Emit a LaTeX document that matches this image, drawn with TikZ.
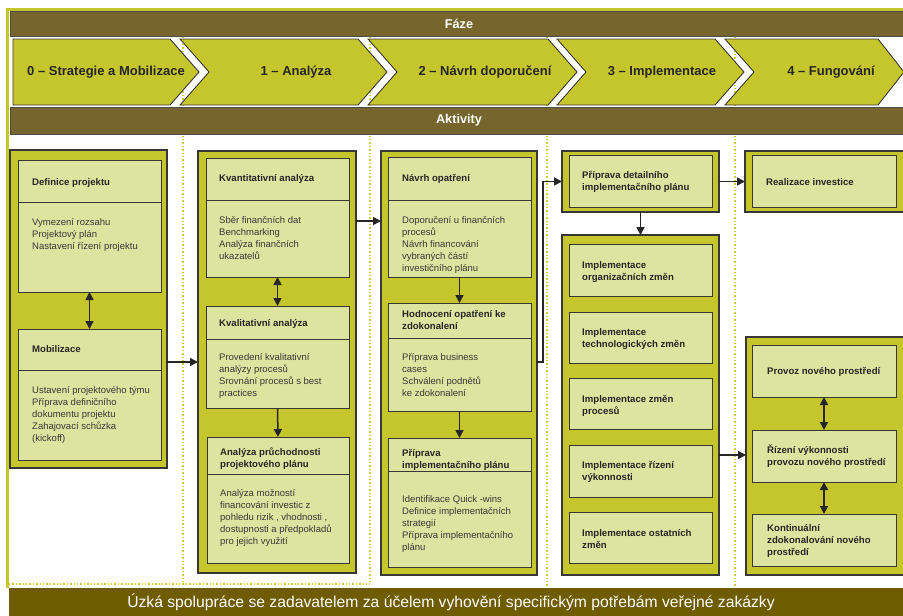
\documentclass[tikz,border=0pt]{standalone}
\usepackage{fontspec}
\setmainfont{Liberation Sans}
\usetikzlibrary{arrows.meta}
\definecolor{colOlive}{RGB}{197,197,44}
\definecolor{colLight}{RGB}{221,228,160}
\definecolor{colBar}{RGB}{118,102,46}
\definecolor{colBot}{RGB}{112,92,0}
\definecolor{colDot}{RGB}{204,204,50}
\definecolor{colLine}{RGB}{55,55,55}
\newcommand{\mkbox}[6]{\node[#1, anchor=north west, minimum width={(#4-#2)*1pt}, minimum height={(#5-#3)*1pt}] (#6) at (#2,#3) {};}
\begin{document}
\begin{tikzpicture}[x=1pt,y=-1pt,
  outerbox/.style={draw=colLine, fill=colOlive, line width=1.2pt, inner sep=0pt, outer sep=0pt},
  innerbox/.style={draw=colLine, fill=colLight, line width=0.9pt, inner sep=0pt, outer sep=0pt},
  divline/.style={draw=colLine, line width=0.9pt},
  chev/.style={draw=colLine, fill=colOlive, line width=0.9pt},
  barstyle/.style={draw=black!70, fill=colBar, line width=0.8pt},
  dotline/.style={draw=colDot, line width=1.3pt, dash pattern=on 1.3pt off 2.1pt},
  hdr/.style={text=white, font=\fontsize{12.7}{15}\selectfont\bfseries, inner sep=0pt},
  chevtext/.style={text=black!85, font=\fontsize{13}{15}\selectfont\bfseries, inner sep=0pt},
  title/.style={text=black!85, font=\fontsize{9.6}{12}\selectfont\bfseries, inner sep=0pt, anchor=base west, align=left},
  body/.style={text=black!78, font=\fontsize{9.5}{12}\selectfont, inner sep=0pt, anchor=base west, align=left},
  arr/.style={draw=black!85, line width=1.5pt, -{Triangle[length=8pt,width=8pt]}},
  darr/.style={draw=black!85, line width=1.5pt, {Triangle[length=8pt,width=8pt]}-{Triangle[length=8pt,width=8pt]}}
]
\useasboundingbox (0,0) rectangle (903,616);
\clip (0,0) rectangle (903,616);
\fill[white] (0,0) rectangle (903,616);

% dotted column separators
\draw[dotline] (183,37) -- (183,584);
\draw[dotline] (370,37) -- (370,584);
\draw[dotline] (547,37) -- (547,588);
\draw[dotline] (735,37) -- (735,588);
\draw[dotline] (9,584) -- (370,584);

% outer frame
\draw[colOlive, line width=2.2pt] (7.5,588) -- (7.5,9.5) -- (903,9.5);

% header bars
\draw[barstyle] (10,11) rectangle (906,36);
\node[hdr] (faze) at (459,23.5) {Fáze};

% chevrons
\draw[chev] (13,39) -- (170,39) -- (199,72) -- (170,105) -- (13,105) -- cycle;
\draw[chev] (180,39) -- (358,39) -- (387,72) -- (358,105) -- (180,105) -- (209,72) -- cycle;
\draw[chev] (368,39) -- (548,39) -- (577,72) -- (548,105) -- (368,105) -- (397,72) -- cycle;
\draw[chev] (557,39) -- (715,39) -- (744,72) -- (715,105) -- (557,105) -- (586,72) -- cycle;
\draw[chev] (725,39) -- (878,39) -- (904,72) -- (878,105) -- (725,105) -- (754,72) -- cycle;
\node[chevtext] (ph0) at (106,72) {0 – Strategie a Mobilizace};
\node[chevtext] (ph1) at (296,72) {1 – Analýza};
\node[chevtext] (ph2) at (485,72) {2 – Návrh doporučení};
\node[chevtext] (ph3) at (662,72) {3 – Implementace};
\node[chevtext] (ph4) at (831,72) {4 – Fungování};

\draw[barstyle] (10,107) rectangle (906,134);
\node[hdr] (akt) at (459,120.5) {Aktivity};

% ---------- column 0
\mkbox{outerbox}{10}{150}{167}{468}{c0}
\mkbox{innerbox}{18}{160}{161}{292}{d0}
\draw[divline] (18,202) -- (161,202);
\node[title] (d0t) at (32,185.5) {Definice projektu};
\node[body] (d0b) at (32,249.5) {Vymezení rozsahu\\Projektový plán\\Nastavení řízení projektu};
\mkbox{innerbox}{18}{329}{161}{460}{m0}
\draw[divline] (18,370) -- (161,370);
\node[title] (m0t) at (32,352.5) {Mobilizace};
\node[body] (m0b) at (32,441.5) {Ustavení projektového týmu\\Příprava definičního\\dokumentu projektu\\Zahajovací schůzka\\(kickoff)};
\draw[darr] (d0.south) -- (m0.north);

% ---------- column 1
\mkbox{outerbox}{198}{151}{356}{573}{c1}
\mkbox{innerbox}{206}{158}{349}{277}{k1}
\draw[divline] (206,200) -- (349,200);
\node[title] (k1t) at (219,181.5) {Kvantitativní analýza};
\node[body] (k1b) at (219,259.5) {Sběr finančních dat\\Benchmarking\\Analýza finančních\\ukazatelů};
\mkbox{innerbox}{206}{306}{349}{408}{q1}
\draw[divline] (206,339) -- (349,339);
\node[title] (q1t) at (219,326.5) {Kvalitativní analýza};
\node[body] (q1b) at (219,396.5) {Provedení kvalitativní\\analýzy procesů\\Srovnání procesů s best\\practices};
\mkbox{innerbox}{207}{437}{349}{563}{p1}
\draw[divline] (207,474) -- (349,474);
\node[title] (p1t) at (220,467.5) {Analýza průchodnosti\\projektového plánu};
\node[body] (p1b) at (220,544.5) {Analýza možností\\financování investic z\\pohledu rizik , vhodnosti ,\\dostupnosti a předpokladů\\pro jejich využití};
\draw[darr] (k1.south) -- (q1.north);
\draw[arr] (q1.south) -- (p1.north);

% ---------- column 2
\mkbox{outerbox}{381}{151}{537}{575}{c2}
\mkbox{innerbox}{388}{157}{531}{277}{n2}
\draw[divline] (388,200) -- (531,200);
\node[title] (n2t) at (402,181.5) {Návrh opatření};
\node[body] (n2b) at (402,271.5) {Doporučení u finančních\\procesů\\Návrh financování\\vybraných částí\\investičního plánu};
\mkbox{innerbox}{388}{303}{531}{411}{h2}
\draw[divline] (388,338) -- (531,338);
\node[title] (h2t) at (402,329.5) {Hodnocení opatření ke\\zdokonalení};
\node[body] (h2b) at (402,396.5) {Příprava business\\cases\\Schválení podnětů\\ke zdokonalení};
\mkbox{innerbox}{388}{438}{531}{567}{i2}
\draw[divline] (388,471) -- (531,471);
\node[title] (i2t) at (402,468.5) {Příprava\\implementačního plánu};
\node[body] (i2b) at (402,550.5) {Identifikace Quick -wins\\Definice implementačních\\strategií\\Příprava implementačního\\plánu};
\draw[arr] (n2.south) -- (h2.north);
\draw[arr] (h2.south) -- (i2.north);

% ---------- column 3
\mkbox{outerbox}{562}{151}{719}{212}{c3a}
\mkbox{innerbox}{569}{155}{712}{207}{r3}
\node[title] (r3t) at (582,190.5) {Příprava detailního\\implementačního plánu};
\mkbox{outerbox}{562}{235}{719}{575}{c3b}
\mkbox{innerbox}{569}{244}{712}{296}{e1}
\mkbox{innerbox}{569}{312}{712}{363}{e2}
\mkbox{innerbox}{569}{378}{712}{429}{e3}
\mkbox{innerbox}{569}{445}{712}{497}{e4}
\mkbox{innerbox}{569}{512}{712}{563}{e5}
\node[title] (e1t) at (582,280) {Implementace\\organizačních změn};
\node[title] (e2t) at (582,347) {Implementace\\technologických změn};
\node[title] (e3t) at (582,414) {Implementace změn\\procesů};
\node[title] (e4t) at (582,480) {Implementace řízení\\výkonnosti};
\node[title] (e5t) at (582,548) {Implementace ostatních\\změn};
\draw[arr] (c3a.south) -- (c3b.north);

% ---------- column 4
\mkbox{outerbox}{745}{151}{904}{212}{c4a}
\mkbox{innerbox}{752}{155}{896}{207}{v4}
\node[title] (v4t) at (766,185.5) {Realizace investice};
\mkbox{outerbox}{746}{337}{904}{575}{c4b}
\mkbox{innerbox}{752}{345}{896}{397}{o1}
\mkbox{innerbox}{752}{430}{896}{482}{o2}
\mkbox{innerbox}{752}{514}{896}{566}{o3}
\node[title] (o1t) at (767,374.5) {Provoz nového prostředí};
\node[title] (o2t) at (767,465) {Řízení výkonnosti\\provozu nového prostředí};
\node[title] (o3t) at (767,555.5) {Kontinuální\\zdokonalování nového\\prostředí};
\draw[darr] (o1.south) -- (o2.north);
\draw[darr] (o2.south) -- (o3.north);

% ---------- connectors between columns
\coordinate (y362) at (0,362);
\coordinate (y221) at (0,221);
\coordinate (y455) at (0,455);
\draw[arr] (c0.east |- y362) -- (c1.west |- y362);
\draw[arr] (c1.east |- y221) -- (c2.west |- y221);
\draw[arr] (c2.east |- y362) -- ++(6,0) |- (c3a.west);
\draw[arr] (c3a.east) -- (c4a.west |- c3a.east);
\draw[arr] (c3b.east |- y455) -- (c4b.west |- y455);

% bottom bar
\fill[colBot] (9,588) rectangle (904,617);
\node[text=white, font=\fontsize{15.7}{18}\selectfont, inner sep=0pt] (foot) at (451,602) {Úzká spolupráce se zadavatelem za účelem vyhovění specifickým potřebám veřejné zakázky};
\end{tikzpicture}
\end{document}
